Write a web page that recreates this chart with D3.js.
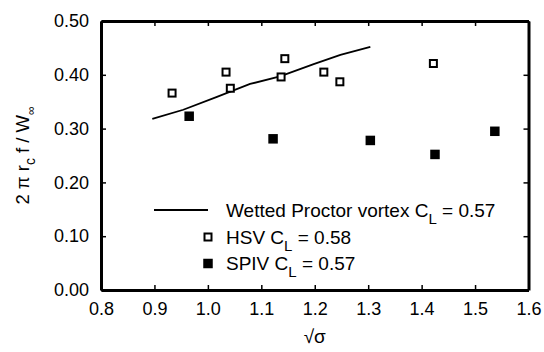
<!DOCTYPE html>
<html>
  <head>
    <script src="https://cdn.jsdelivr.net/npm/d3@7"></script>
    <style>
      body { margin: 0; background: #fff; }
      text { font-family: 'Liberation Sans', Arial, sans-serif; }
    </style>
  </head>
  <body>
    <svg width="544" height="352" id="mainsvg"></svg>
    <script>
        // wetted Proctor vortex model line
        const lineX = [0.896, 0.954, 1.017, 1.079, 1.135, 1.198, 1.248, 1.304];
        const lineY = [0.318, 0.335, 0.359, 0.383, 0.397, 0.420, 0.437, 0.452];
        // HSV (open squares)
        const hsvX = [0.933, 1.034, 1.042, 1.137, 1.144, 1.217, 1.247, 1.422];
        const hsvY = [0.366, 0.405, 0.375, 0.396, 0.430, 0.405, 0.387, 0.421];
        // SPIV (filled squares)
        const spivX = [0.965, 1.122, 1.304, 1.425, 1.537];
        const spivY = [0.323, 0.281, 0.278, 0.252, 0.295];

        const xTicks = [0.8, 0.9, 1.0, 1.1, 1.2, 1.3, 1.4, 1.5, 1.6];
        const yTicks = [0.0, 0.1, 0.2, 0.3, 0.4, 0.5];

        const svg = d3.select('#mainsvg');
        const margin = {top: 21, right: 15.5, bottom: 62, left: 101};
        const innerWidth = 544 - margin.left - margin.right;
        const innerHeight = 352 - margin.top - margin.bottom;

        const g = svg.append('g')
        .attr('transform', `translate(${margin.left}, ${margin.top})`);

        const xScale = d3.scaleLinear().domain([0.8, 1.6]).range([0, innerWidth]);
        const yScale = d3.scaleLinear().domain([0, 0.5]).range([innerHeight, 0]);

        const styleAxis = (sel) => {
          sel.select('.domain').attr('stroke-width', 3);
          sel.selectAll('.tick line').attr('stroke-width', 1.5);
          sel.selectAll('.tick text').attr('font-size', '18px').attr('fill', '#000')
            .style('font-family', "'Liberation Sans', Arial, sans-serif");
        };

        const xAxis = d3.axisBottom(xScale).tickValues(xTicks)
        .tickFormat(d3.format('.1f')).tickSize(-5).tickSizeOuter(0).tickPadding(12);
        g.append('g').attr('transform', `translate(0, ${innerHeight})`).call(xAxis).call(styleAxis);

        const yAxis = d3.axisLeft(yScale).tickValues(yTicks)
        .tickFormat(d3.format('.2f')).tickSize(-5).tickSizeOuter(0).tickPadding(12);
        g.append('g').call(yAxis).call(styleAxis);

        // top and right frame: ticks only, no labels
        const topAxis = d3.axisTop(xScale).tickValues(xTicks).tickSize(-5).tickSizeOuter(0);
        g.append('g').call(topAxis).call(styleAxis).selectAll('.tick text').remove();

        const rightAxis = d3.axisRight(yScale).tickValues(yTicks).tickSize(-5).tickSizeOuter(0);
        g.append('g').attr('transform', `translate(${innerWidth}, 0)`).call(rightAxis).call(styleAxis)
        .selectAll('.tick text').remove();

        // model line
        const line = d3.line().x(d => xScale(d[0])).y(d => yScale(d[1]));
        g.append('path')
        .datum(lineX.map((x, i) => [x, lineY[i]]))
        .attr('d', line).attr('fill', 'none').attr('stroke', '#000').attr('stroke-width', 1.8);

        // HSV open squares
        const so = 7, sf = 9.5;
        g.selectAll('.hsv').data(hsvX.map((x, i) => [x, hsvY[i]])).join('rect')
        .attr('x', d => xScale(d[0]) - so / 2).attr('y', d => yScale(d[1]) - so / 2)
        .attr('width', so).attr('height', so)
        .attr('fill', '#fff').attr('stroke', '#000').attr('stroke-width', 2);

        // SPIV filled squares
        g.selectAll('.spiv').data(spivX.map((x, i) => [x, spivY[i]])).join('rect')
        .attr('x', d => xScale(d[0]) - sf / 2).attr('y', d => yScale(d[1]) - sf / 2)
        .attr('width', sf).attr('height', sf).attr('fill', '#000');

        // legend
        const leg = svg.append('g');
        const legText = (y, name, val) => {
          const t = leg.append('text').attr('x', 226).attr('y', y).attr('font-size', '19px');
          t.append('tspan').text(name + ' C');
          t.append('tspan').text('L').attr('font-size', '15px').attr('dy', 7);
          t.append('tspan').text(' = ' + val).attr('dy', -7);
        };
        leg.append('line').attr('x1', 154).attr('x2', 208).attr('y1', 210).attr('y2', 210)
        .attr('stroke', '#000').attr('stroke-width', 1.8);
        legText(216.5, 'Wetted Proctor vortex', '0.57');
        leg.append('rect').attr('x', 208 - so / 2).attr('y', 237 - so / 2).attr('width', so).attr('height', so)
        .attr('fill', '#fff').attr('stroke', '#000').attr('stroke-width', 2);
        legText(243.5, 'HSV', '0.58');
        leg.append('rect').attr('x', 208 - sf / 2).attr('y', 263.5 - sf / 2).attr('width', sf).attr('height', sf)
        .attr('fill', '#000');
        legText(270, 'SPIV', '0.57');

        // axis titles
        svg.append('text').attr('x', margin.left + innerWidth / 2).attr('y', 343)
        .attr('text-anchor', 'middle').attr('font-size', '19px').text('√σ');

        const yl = svg.append('text')
        .attr('transform', `translate(29, ${margin.top + innerHeight / 2}) rotate(-90)`)
        .attr('text-anchor', 'middle').attr('font-size', '18.5px');
        yl.append('tspan').text('2 π r');
        yl.append('tspan').text('c').attr('font-size', '14px').attr('dy', 6);
        yl.append('tspan').text(' f / W').attr('dy', -6);
        yl.append('tspan').text('∞').attr('font-size', '12px').attr('dy', 6);
    </script>
  </body>
</html>
